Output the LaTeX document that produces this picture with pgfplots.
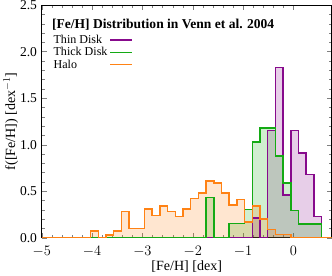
\documentclass[border=0pt]{standalone}
\usepackage{pgfplots}
\pgfplotsset{compat=1.18}
\usepackage{pgfplotstable}
\usepackage{fontspec}
\setmainfont{Liberation Serif}
\definecolor{cthin}{RGB}{135,10,140}
\definecolor{cthick}{RGB}{20,170,20}
\definecolor{chalo}{RGB}{255,130,20}
% bin left edges (width 0.153) and heights
\pgfplotstableread{
x h
-5.000 0
-4.030 0.07
-3.877 0
-3.724 0.03
-3.571 0.07
-3.418 0.28
-3.265 0.10
-3.112 0.10
-2.959 0.31
-2.806 0.24
-2.653 0.34
-2.500 0.28
-2.347 0.23
-2.194 0.31
-2.041 0.42
-1.888 0.48
-1.735 0.61
-1.582 0.59
-1.429 0.48
-1.276 0.35
-1.123 0.41
-0.970 0.17
-0.817 0.34
-0.664 0.20
-0.511 0.09
-0.358 0.035
-0.205 0.035
-0.052 0
0.760 0
}\halo
\pgfplotstableread{
x h
-5.000 0
-1.735 0.43
-1.582 0
-1.276 0.15
-1.123 0.15
-0.970 0.30
-0.817 1.03
-0.664 1.18
-0.511 1.18
-0.358 0.88
-0.205 0.59
-0.052 0.29
0.101 0.146
0.254 0.146
0.407 0.146
0.560 0
0.760 0
}\thick
\pgfplotstableread{
x h
-5.000 0
-0.817 0.21
-0.664 0
-0.511 1.15
-0.358 1.83
-0.205 0.46
-0.052 1.15
0.101 0.91
0.254 0.68
0.407 0.23
0.560 0
0.760 0
}\thin
\begin{document}
\begin{tikzpicture}
\begin{axis}[
  scale only axis,
  width=288bp, height=231bp,
  xmin=-5, xmax=0.76, ymin=0, ymax=2.5,
  xtick={-5,-4,-3,-2,-1,0},
  ytick={0,0.5,1,1.5,2,2.5},
  minor x tick num=4, minor y tick num=4,
  tick align=inside,
  major tick length=5bp, minor tick length=3bp,
  xticklabels={$-5$,$-4$,$-3$,$-2$,$-1$,$0$},
  yticklabel style={xshift=-4bp, /pgf/number format/.cd, fixed, fixed zerofill, precision=1},
  /pgf/number format/assume math mode=true,
  tick label style={font=\fontsize{13.5}{15}\selectfont, inner sep=0.5bp},
  xticklabel style={yshift=-8bp},
  label style={font=\fontsize{14}{16}\selectfont},
  xlabel={[Fe/H] [dex]},
  ylabel={f([Fe/H]) [dex$^{-1}$]},
  xlabel style={yshift=0bp},
  ylabel style={yshift=-2bp},
  axis line style={line width=0.6pt},
  legend plot pos=right,
  legend cell align=left,
  legend style={draw=none, fill=none, at={(rel axis cs:0.03,0.885)}, anchor=north west,
    font=\fontsize{12}{13}\selectfont, row sep=-1.5bp, inner sep=1bp},
  legend image code/.code={\draw[#1, line width=1.6pt] (0.1cm,0cm) -- (0.85cm,0cm);},
]
\addplot[draw=none, fill=cthin, fill opacity=0.2, const plot, forget plot] table[x=x,y=h] {\thin} \closedcycle;
\addplot[draw=none, fill=cthick, fill opacity=0.2, const plot, forget plot] table[x=x,y=h] {\thick} \closedcycle;
\addplot[draw=none, fill=chalo, fill opacity=0.2, const plot, forget plot] table[x=x,y=h] {\halo} \closedcycle;
\addplot[cthin, line width=1.5pt, const plot] table[x=x,y=h] {\thin};
\addplot[cthick, line width=1.5pt, const plot] table[x=x,y=h] {\thick};
\addplot[chalo, line width=1.5pt, const plot] table[x=x,y=h] {\halo};
\legend{Thin Disk, Thick Disk, Halo}
\node[anchor=west, font=\bfseries\fontsize{13.5}{15}\selectfont, inner sep=0pt] at (rel axis cs:0.035,0.915) {[Fe/H] Distribution in Venn et al. 2004};
\end{axis}
\end{tikzpicture}
\end{document}
